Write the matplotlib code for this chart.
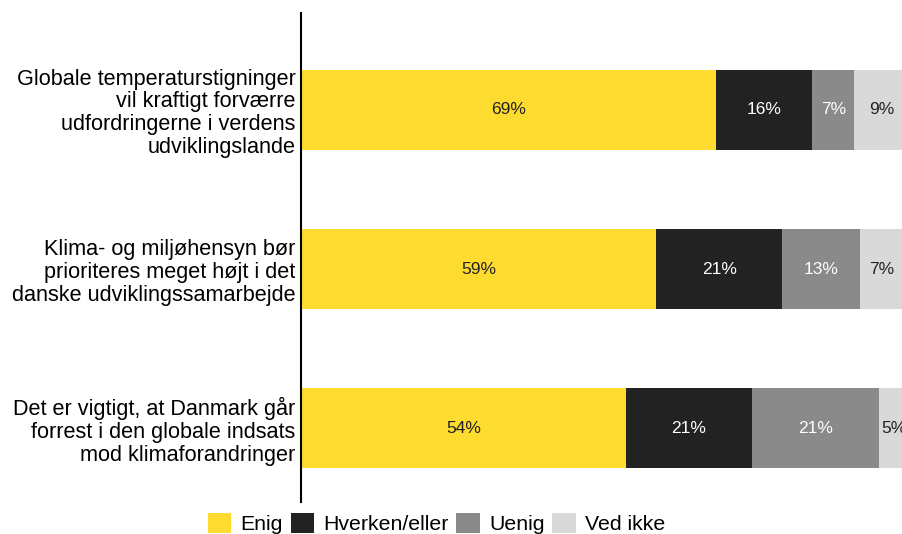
import matplotlib.pyplot as plt
import numpy as np
from matplotlib.patches import Patch

plt.rcParams['font.family'] = ['Liberation Sans', 'DejaVu Sans']

# data
statements = [
    'Globale temperaturstigninger\nvil kraftigt forværre\nudfordringerne i verdens\nudviklingslande',
    'Klima- og miljøhensyn bør\nprioriteres meget højt i det\ndanske udviklingssamarbejde',
    'Det er vigtigt, at Danmark går\nforrest i den globale indsats\nmod klimaforandringer',
]
answers = ['Enig', 'Hverken/eller', 'Uenig', 'Ved ikke']
enig = [69, 59, 54]
hverken = [16, 21, 21]
uenig = [7, 13, 21]
ved_ikke = [9, 7, 5]

colors = ['#fddb2f', '#222222', '#8a8a8a', '#d9d9d9']
text_colors = ['#222222', 'white', 'white', '#222222']

fig = plt.figure(figsize=(9.02, 5.34), dpi=100)
ax = fig.add_axes([0.3337, 0.0599, 0.6663, 0.9158])

y = np.arange(len(statements))
left = np.zeros(len(statements))
for vals, col, tcol in zip([enig, hverken, uenig, ved_ikke], colors, text_colors):
    vals = np.array(vals)
    ax.barh(y, vals, left=left, height=0.503, color=col, edgecolor='none')
    for yi, l, v in zip(y, left, vals):
        ax.text(l + v / 2, yi, f'{v}%', ha='center', va='center',
                color=tcol, fontsize=12.5)
    left += vals

ax.set_xlim(0, 99.9)
ax.set_ylim(2.465, -0.61)
ax.set_yticks(y)
ax.set_yticklabels(statements, fontsize=15.6, linespacing=1.12, ha='right')
ax.tick_params(axis='y', length=0, pad=4)
ax.set_xticks([])
for s in ['top', 'right', 'bottom']:
    ax.spines[s].set_visible(False)
ax.spines['left'].set_linewidth(1.5)

handles = [Patch(facecolor=c, edgecolor='none') for c in colors]
fig.legend(handles, answers, loc='center', bbox_to_anchor=(0.484, 0.02), ncol=4,
           frameon=False, fontsize=15.3, handlelength=1.1, handleheight=1.1,
           handletextpad=0.45, columnspacing=0.35)

plt.savefig('out.png', dpi=100)
